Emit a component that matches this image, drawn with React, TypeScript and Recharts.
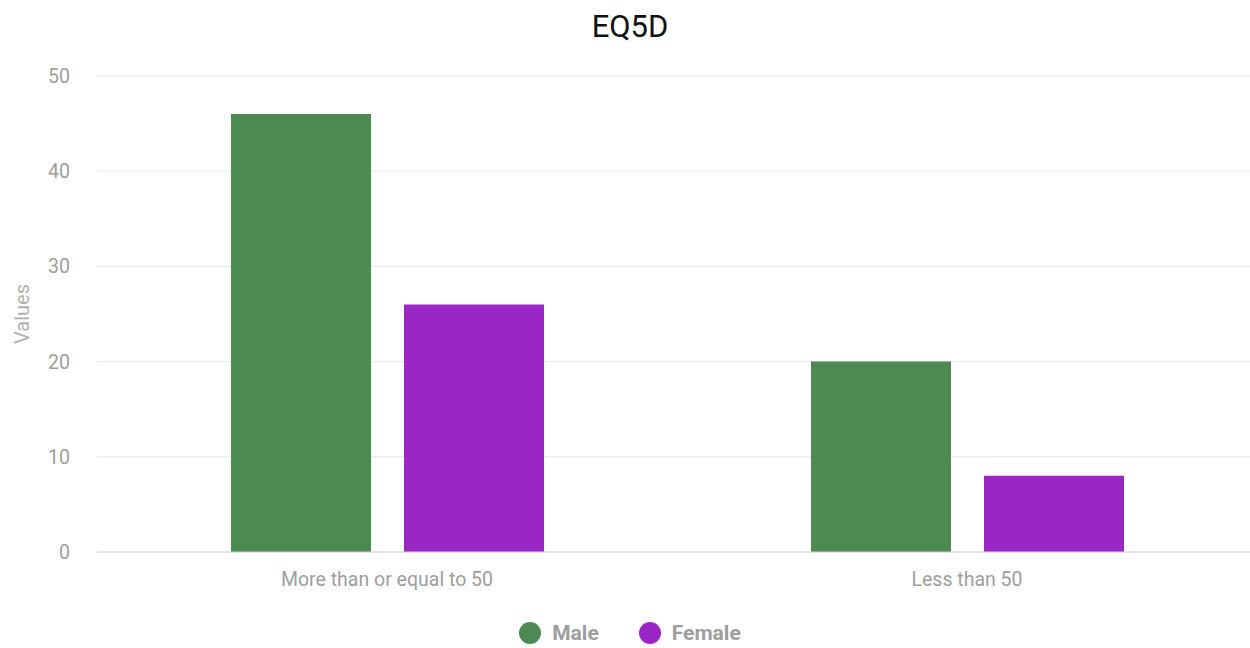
import React from "react";
import { BarChart, Bar, XAxis, YAxis, CartesianGrid, Legend } from "recharts";

const categories = ["More than or equal to 50", "Less than 50"];
const maleValues = [46, 20];
const femaleValues = [26, 8];
const yTicks = [0, 10, 20, 30, 40, 50];

const MALE = "#4c8a52";
const FEMALE = "#9b26c6";
const GRAY = "#9e9e9e";
const FONT = "Roboto, 'Noto Sans', sans-serif";

const data = categories.map((name, i) => ({
  name,
  Male: maleValues[i],
  Female: femaleValues[i],
}));

// y axis title, rotated
const ValuesLabel = ({ viewBox }: any) => {
  const cy = viewBox.y + viewBox.height / 2;
  return (
    <text
      x={29}
      y={cy}
      transform={`rotate(-90, 29, ${cy})`}
      textAnchor="middle"
      fill="#b0b0b0"
      fontSize={20}
      fontFamily={FONT}
    >
      Values
    </text>
  );
};

const LegendContent = () => (
  <div
    style={{
      display: "flex",
      justifyContent: "center",
      alignItems: "center",
      gap: 40,
      fontFamily: FONT,
      fontSize: 21,
      fontWeight: 700,
      color: GRAY,
      paddingLeft: 10,
    }}
  >
    {[
      { label: "Male", color: MALE },
      { label: "Female", color: FEMALE },
    ].map((item) => (
      <div key={item.label} style={{ display: "flex", alignItems: "center" }}>
        <span
          style={{
            width: 22,
            height: 22,
            borderRadius: "50%",
            background: item.color,
            display: "inline-block",
            marginRight: 11,
          }}
        />
        {item.label}
      </div>
    ))}
  </div>
);

export default function App() {
  return (
    <div
      style={{
        position: "absolute",
        left: 0,
        top: 0,
        width: 1250,
        height: 648,
        overflow: "hidden",
        background: "#fff",
      }}
    >
      <div
        style={{
          position: "absolute",
          top: 8,
          left: 0,
          width: 1260,
          textAlign: "center",
          fontFamily: FONT,
          fontSize: 31,
          color: "#111",
        }}
      >
        EQ5D
      </div>
      <BarChart
        width={1257}
        height={648}
        data={data}
        margin={{ top: 76, right: 0, left: 0, bottom: 56 }}
        barGap={33}
        barSize={140}
      >
        <CartesianGrid vertical={false} stroke="#e6e6e6" />
        <XAxis
          dataKey="name"
          tickLine={false}
          tickSize={0}
          tickMargin={20}
          axisLine={{ stroke: "#d6d6d6" }}
          tick={{ fill: GRAY, fontSize: 19.5, fontFamily: FONT }}
          height={40}
        />
        <YAxis
          width={97}
          domain={[0, 50]}
          ticks={yTicks}
          tickLine={false}
          axisLine={false}
          tickSize={0}
          tickMargin={27}
          tick={{ fill: GRAY, fontSize: 19.5, fontFamily: FONT }}
          label={<ValuesLabel />}
        />
        <Legend
          verticalAlign="middle"
          align="center"
          content={<LegendContent />}
          wrapperStyle={{ top: 621, bottom: "auto", left: 0, width: 1250 }}
        />
        <Bar dataKey="Male" fill={MALE} isAnimationActive={false} />
        <Bar dataKey="Female" fill={FEMALE} isAnimationActive={false} />
      </BarChart>
    </div>
  );
}
